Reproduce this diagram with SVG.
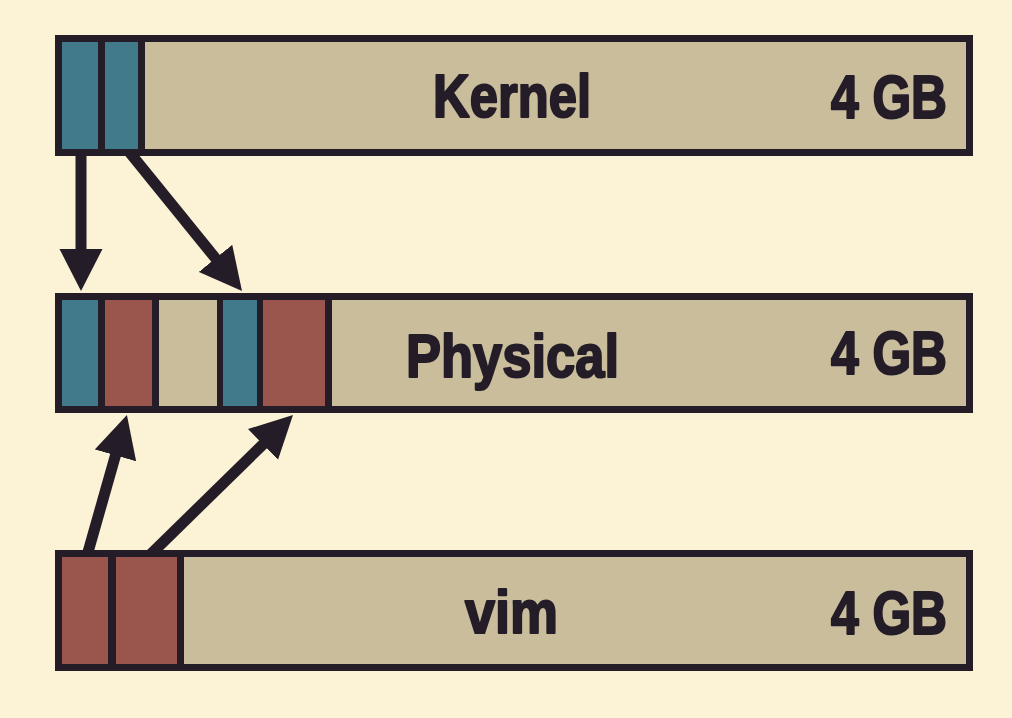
<svg xmlns="http://www.w3.org/2000/svg" width="1012" height="718" viewBox="0 0 1012 718">
<style>
.frame{fill:#241d28}
.blue{fill:#417b8b}
.red{fill:#9a564c}
.beige{fill:#c9bd9c}
.lbl{font-family:"Liberation Sans Narrow","Liberation Sans",Arial,sans-serif;font-weight:bold;font-size:62px;fill:#241d28;stroke:#241d28;stroke-width:2.2;stroke-linejoin:round}
.arrow{stroke:#241d28;stroke-width:11;fill:none;marker-end:url(#head)}
</style>
<defs>
<marker id="head" markerUnits="userSpaceOnUse" markerWidth="44" markerHeight="44" viewBox="0 0 44 44" refX="2" refY="22" orient="auto">
<path d="M0,0.5 L42,22 L0,43.5 Z" fill="#241d28"/>
</marker>
</defs>
<rect width="1012" height="718" fill="#fcf3d6"/>
<g id="connectors">
<line class="arrow" x1="81" y1="150" x2="81" y2="251"/>
<line class="arrow" x1="128.7" y1="151.3" x2="216.8" y2="259.9"/>
<line class="arrow" x1="86.4" y1="557.8" x2="116" y2="453.5"/>
<line class="arrow" x1="148.7" y1="556.2" x2="264.4" y2="443"/>
</g>
<g id="kernel">
<rect class="frame" x="55" y="35" width="918" height="121"/>
<rect class="blue" x="62" y="42" width="36" height="107"/>
<rect class="blue" x="105" y="42" width="33" height="107"/>
<rect class="beige" x="145" y="42" width="821" height="107"/>
<text class="lbl" x="433" y="117" textLength="158" lengthAdjust="spacingAndGlyphs">Kernel</text>
<text class="lbl" x="831" y="118" textLength="116" lengthAdjust="spacingAndGlyphs">4 GB</text>
</g>
<g id="physical">
<rect class="frame" x="55" y="293" width="918" height="120"/>
<rect class="blue" x="62" y="300" width="36" height="106"/>
<rect class="red" x="105" y="300" width="47" height="106"/>
<rect class="beige" x="159" y="300" width="58" height="106"/>
<rect class="blue" x="223" y="300" width="34" height="106"/>
<rect class="red" x="263" y="300" width="62" height="106"/>
<rect class="beige" x="332" y="300" width="634" height="106"/>
<text class="lbl" x="406" y="377" textLength="213" lengthAdjust="spacingAndGlyphs">Physical</text>
<text class="lbl" x="831" y="374" textLength="116" lengthAdjust="spacingAndGlyphs">4 GB</text>
</g>
<g id="vim">
<rect class="frame" x="55" y="550" width="918" height="121"/>
<rect class="red" x="62" y="557" width="46" height="107"/>
<rect class="red" x="116" y="557" width="61" height="107"/>
<rect class="beige" x="184" y="557" width="782" height="107"/>
<text class="lbl" x="465" y="633" textLength="93" lengthAdjust="spacingAndGlyphs">vim</text>
<text class="lbl" x="831" y="634" textLength="116" lengthAdjust="spacingAndGlyphs">4 GB</text>
</g>
</svg>
